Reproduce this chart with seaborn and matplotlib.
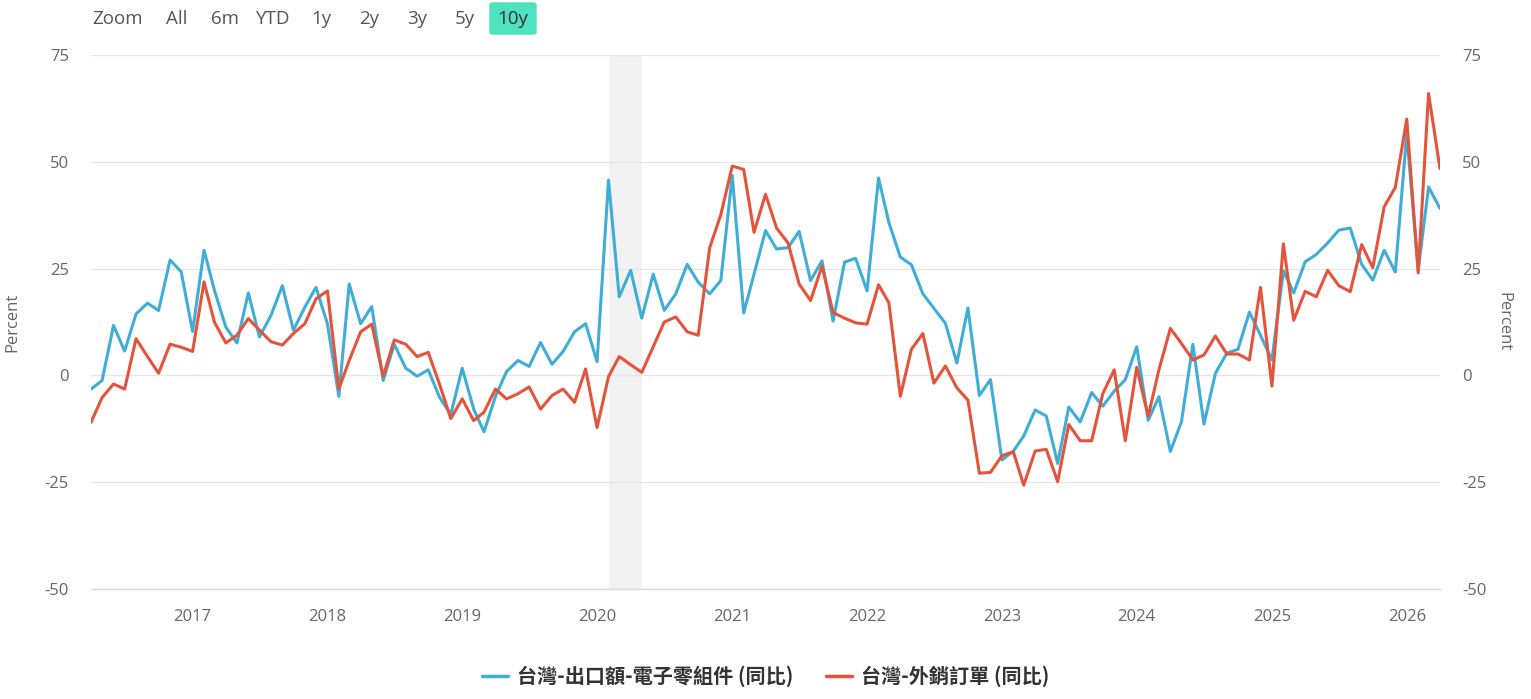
import pandas as pd
import matplotlib.pyplot as plt
import matplotlib.dates as mdates
from matplotlib.lines import Line2D
from matplotlib.patches import FancyBboxPatch
import seaborn as sns

# monthly, 2016-04 .. 2026-04
months = pd.date_range("2016-04-01", "2026-04-01", freq="MS")

# 台灣-出口額-電子零組件 (同比)
export_elec = [
    -3.2, -1.2, 11.7, 5.7, 14.4, 16.9, 15.2, 27.0, 24.3,
    10.3, 29.3, 20.0, 11.3, 7.6, 19.3, 9.0, 14.0, 21.0, 10.6, 16.0, 20.6, 12.1,
    -4.9, 21.4, 12.1, 16.1, -1.2, 7.3, 1.7, -0.2, 1.3, -5.2, -9.1, 1.7,
    -7.9, -13.2, -4.9, 0.9, 3.5, 2.1, 7.7, 2.6, 5.6, 10.2, 12.1, 3.2,
    45.7, 18.4, 24.6, 13.4, 23.7, 15.2, 19.1, 26.0, 21.8, 19.1, 22.2, 46.8,
    14.6, 23.7, 33.9, 29.6, 29.9, 33.7, 22.2, 26.8, 12.7, 26.5, 27.4, 19.8,
    46.2, 35.8, 27.7, 25.9, 19.1, 15.7, 12.2, 2.9, 15.8, -4.7, -1.0, -19.8,
    -17.7, -14.2, -8.1, -9.5, -20.6, -7.4, -10.9, -4.0, -7.2, -3.7, -1.0, 6.7,
    -10.5, -5.0, -17.8, -10.9, 7.3, -11.4, 0.5, 5.2, 6.1, 14.8, 9.4, 3.6,
    24.5, 19.3, 26.6, 28.3, 31.0, 34.0, 34.5, 26.0, 22.3, 29.3, 24.2, 56.6,
    24.6, 44.1, 39.1,
]

# 台灣-外銷訂單 (同比)
export_orders = [
    -11.0, -5.2, -2.0, -3.2, 8.6, 4.4, 0.5, 7.3, 6.6,
    5.6, 21.9, 12.5, 7.6, 9.4, 13.3, 10.6, 7.9, 7.1, 9.8, 12.1, 17.9, 19.8,
    -3.2, 3.5, 10.2, 12.0, -0.2, 8.3, 7.3, 4.4, 5.4, -2.2, -10.1, -5.5,
    -10.6, -8.6, -3.2, -5.5, -4.3, -2.7, -7.9, -4.7, -3.2, -6.3, 1.5, -12.2,
    -0.3, 4.4, 2.5, 0.7, 6.7, 12.5, 13.7, 10.2, 9.4, 29.9, 37.6, 49.0,
    48.2, 33.5, 42.4, 34.5, 31.0, 21.4, 17.5, 25.6, 14.7, 13.4, 12.3, 12.0,
    21.2, 17.0, -4.9, 6.1, 9.8, -1.8, 2.2, -2.9, -5.8, -22.9, -22.7, -18.8,
    -17.9, -25.7, -17.7, -17.3, -24.9, -11.5, -15.3, -15.3, -4.3, 1.3, -15.3, 1.9,
    -9.6, 1.3, 11.0, 7.5, 3.6, 4.8, 9.2, 5.0, 5.0, 3.6, 20.6, -2.5,
    30.8, 12.9, 19.7, 18.4, 24.6, 21.0, 19.6, 30.6, 25.2, 39.5, 44.0, 60.0,
    24.0, 66.0, 48.4,
]

series_names = ["台灣-出口額-電子零組件 (同比)", "台灣-外銷訂單 (同比)"]
colors = ["#3fadd6", "#e4533b"]
y_ticks = [-50, -25, 0, 25, 50, 75]
shade_start, shade_end = "2020-02-01", "2020-05-01"
buttons = ["Zoom", "All", "6m", "YTD", "1y", "2y", "3y", "5y", "10y"]

df = pd.DataFrame({
    "date": list(months) * 2,
    "value": export_elec + export_orders,
    "series": [series_names[0]] * len(months) + [series_names[1]] * len(months),
})

sns.set_theme(style="white")
plt.rcParams["font.family"] = ["Open Sans", "Noto Sans CJK TC", "DejaVu Sans"]
plt.rcParams["axes.unicode_minus"] = False

W, H = 1531, 699
fig = plt.figure(figsize=(W / 100, H / 100), dpi=100)
ax = fig.add_axes([91 / W, 1 - 589 / H, (1440 - 91) / W, (589 - 55) / H])

ax.axvspan(pd.Timestamp(shade_start), pd.Timestamp(shade_end), color="#f2f2f2", zorder=0, lw=0)
sns.lineplot(data=df, x="date", y="value", hue="series", palette=colors,
             linewidth=2.2, legend=False, ax=ax, zorder=3)

ax.set_xlim(months[0], months[-1])
ax.set_ylim(-50, 75)
ax.set_yticks(y_ticks)
ax.yaxis.grid(True, color="#e6e6e6", lw=1)
ax.set_axisbelow(True)
for s in ["top", "left", "right"]:
    ax.spines[s].set_visible(False)
ax.spines["bottom"].set_color("#d5d9e0")
ax.spines["bottom"].set_linewidth(1)

ax.xaxis.set_major_locator(mdates.YearLocator())
ax.xaxis.set_major_formatter(mdates.DateFormatter("%Y"))
ax.tick_params(axis="x", length=7.5, width=1, color="#d5d9e0", pad=7,
               labelsize=12, labelcolor="#666666")
ax.tick_params(axis="y", length=0, pad=16, labelsize=12, labelcolor="#666666")
ax.set_xlabel("")
ax.set_ylabel("Percent", fontsize=12, color="#666666")
ax.yaxis.set_label_coords((20 - 91) / 1349, 0.5)

ax2 = ax.twinx()
ax2.set_ylim(-50, 75)
ax2.set_yticks(y_ticks)
for s in ax2.spines.values():
    s.set_visible(False)
ax2.tick_params(axis="y", length=0, pad=16, labelsize=12, labelcolor="#666666")
ax2.set_ylabel("Percent", fontsize=12, color="#666666", rotation=270)
ax2.yaxis.set_label_coords((1511 - 91) / 1349, 0.5)

# range selector
btn_x = [118, 177, 225, 273, 321, 369, 417, 465, 513]
fig.patches.append(FancyBboxPatch((490 / W, 1 - 34 / H), 46 / W, 31 / H,
                                  boxstyle="round,pad=0,rounding_size=0.002",
                                  transform=fig.transFigure, color="#4fe2c1", zorder=0))
for name, bx in zip(buttons, btn_x):
    fig.text(bx / W, 1 - 19 / H, name, ha="center", va="center",
             fontsize=13.5, color="#333333" if name == "10y" else "#555555")

handles = [Line2D([], [], color=c, lw=2.5) for c in colors]
fig.legend(handles, series_names, loc="center", bbox_to_anchor=(765.5 / W, 1 - 676 / H),
           ncol=2, frameon=False, handlelength=1.3, handletextpad=0.45, columnspacing=1.6,
           prop={"family": ["Noto Sans CJK TC"], "weight": "bold", "size": 14.5})
for t in fig.legends[0].get_texts():
    t.set_color("#333333")

fig.savefig("out.png", dpi=100)
